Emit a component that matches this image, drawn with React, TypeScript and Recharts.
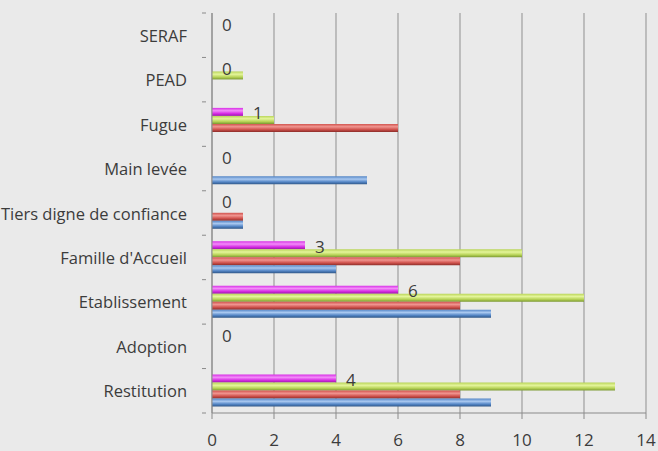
import { BarChart, Bar, XAxis, YAxis, CartesianGrid, LabelList } from "recharts";

const categories = [
	"SERAF",
	"PEAD",
	"Fugue",
	"Main levée",
	"Tiers digne de confiance",
	"Famille d'Accueil",
	"Etablissement",
	"Adoption",
	"Restitution",
];
const blueValues = [0, 0, 0, 5, 1, 4, 9, 0, 9];
const redValues = [0, 0, 6, 0, 1, 8, 8, 0, 8];
const greenValues = [0, 1, 2, 0, 0, 10, 12, 0, 13];
const magentaValues = [0, 0, 1, 0, 0, 3, 6, 0, 4];
const xTicks = [0, 2, 4, 6, 8, 10, 12, 14];

const data = categories.map((name, i) => ({
	name,
	blue: blueValues[i],
	red: redValues[i],
	green: greenValues[i],
	magenta: magentaValues[i],
}));

const FONT = "'Open Sans', sans-serif";
const TEXT = "#3c3c3c";
const PLOT_TOP = 13;
const PLOT_H = 400;
const BAND = PLOT_H / categories.length;

// eslint-disable-next-line @typescript-eslint/no-explicit-any
const CategoryTick = ({ x, y, payload, index }: any) => (
	<g>
		<line x1={x + 15} x2={x + 19} y1={y - BAND / 2} y2={y - BAND / 2} stroke="#8a8a8a" />
		{index === categories.length - 1 && (
			<line x1={x + 15} x2={x + 19} y1={y + BAND / 2} y2={y + BAND / 2} stroke="#8a8a8a" />
		)}
		<text x={x} y={y} textAnchor="end" dominantBaseline="central" fontSize={16.5} fill={TEXT} fontFamily={FONT}>
			{payload.value}
		</text>
	</g>
);

// eslint-disable-next-line @typescript-eslint/no-explicit-any
const ValueLabel = ({ x, y, width, height, value }: any) => (
	<text
		x={x + width + 10}
		y={y + height / 2 + 1}
		dominantBaseline="central"
		fontSize={17}
		fill={TEXT}
		fontFamily={FONT}
	>
		{value}
	</text>
);

const Grad = ({ id, light, mid, dark }: { id: string; light: string; mid: string; dark: string }) => (
	<linearGradient id={id} x1="0" y1="0" x2="0" y2="1">
		<stop offset="0%" stopColor={mid} />
		<stop offset="35%" stopColor={light} />
		<stop offset="70%" stopColor={mid} />
		<stop offset="100%" stopColor={dark} />
	</linearGradient>
);

export default function App() {
	return (
		<div style={{ position: "fixed", top: 0, left: 0, width: 658, height: 451, background: "#eaeaea" }}>
			<BarChart
				width={658}
				height={451}
				data={data}
				layout="vertical"
				margin={{ top: PLOT_TOP, right: 12, bottom: 0, left: 0 }}
				barCategoryGap={6}
				barGap={0}
			>
				<defs>
					<Grad id="gMag" light="#f28cf8" mid="#d82ee6" dark="#9a1aa6" />
					<Grad id="gGreen" light="#e4f59a" mid="#b8d458" dark="#7c9a32" />
					<Grad id="gRed" light="#f0948f" mid="#d0524d" dark="#8e2e2a" />
					<Grad id="gBlue" light="#a9c8f0" mid="#5486c6" dark="#2f5687" />
				</defs>
				<CartesianGrid horizontal={false} stroke="#8f8f8f" />
				<XAxis
					type="number"
					domain={[0, 14]}
					ticks={xTicks}
					height={38}
					tickSize={6}
					tickMargin={15}
					stroke="#8a8a8a"
					tick={{ fontSize: 17, fill: TEXT, fontFamily: FONT }}
				/>
				<YAxis
					type="category"
					dataKey="name"
					width={212}
					tickLine={false}
					tickMargin={19}
					stroke="#8a8a8a"
					tick={<CategoryTick />}
				/>
				<Bar dataKey="magenta" fill="url(#gMag)" minPointSize={0.01} isAnimationActive={false}>
					<LabelList dataKey="magenta" content={<ValueLabel />} />
				</Bar>
				<Bar dataKey="green" fill="url(#gGreen)" isAnimationActive={false} />
				<Bar dataKey="red" fill="url(#gRed)" isAnimationActive={false} />
				<Bar dataKey="blue" fill="url(#gBlue)" isAnimationActive={false} />
			</BarChart>
		</div>
	);
}
